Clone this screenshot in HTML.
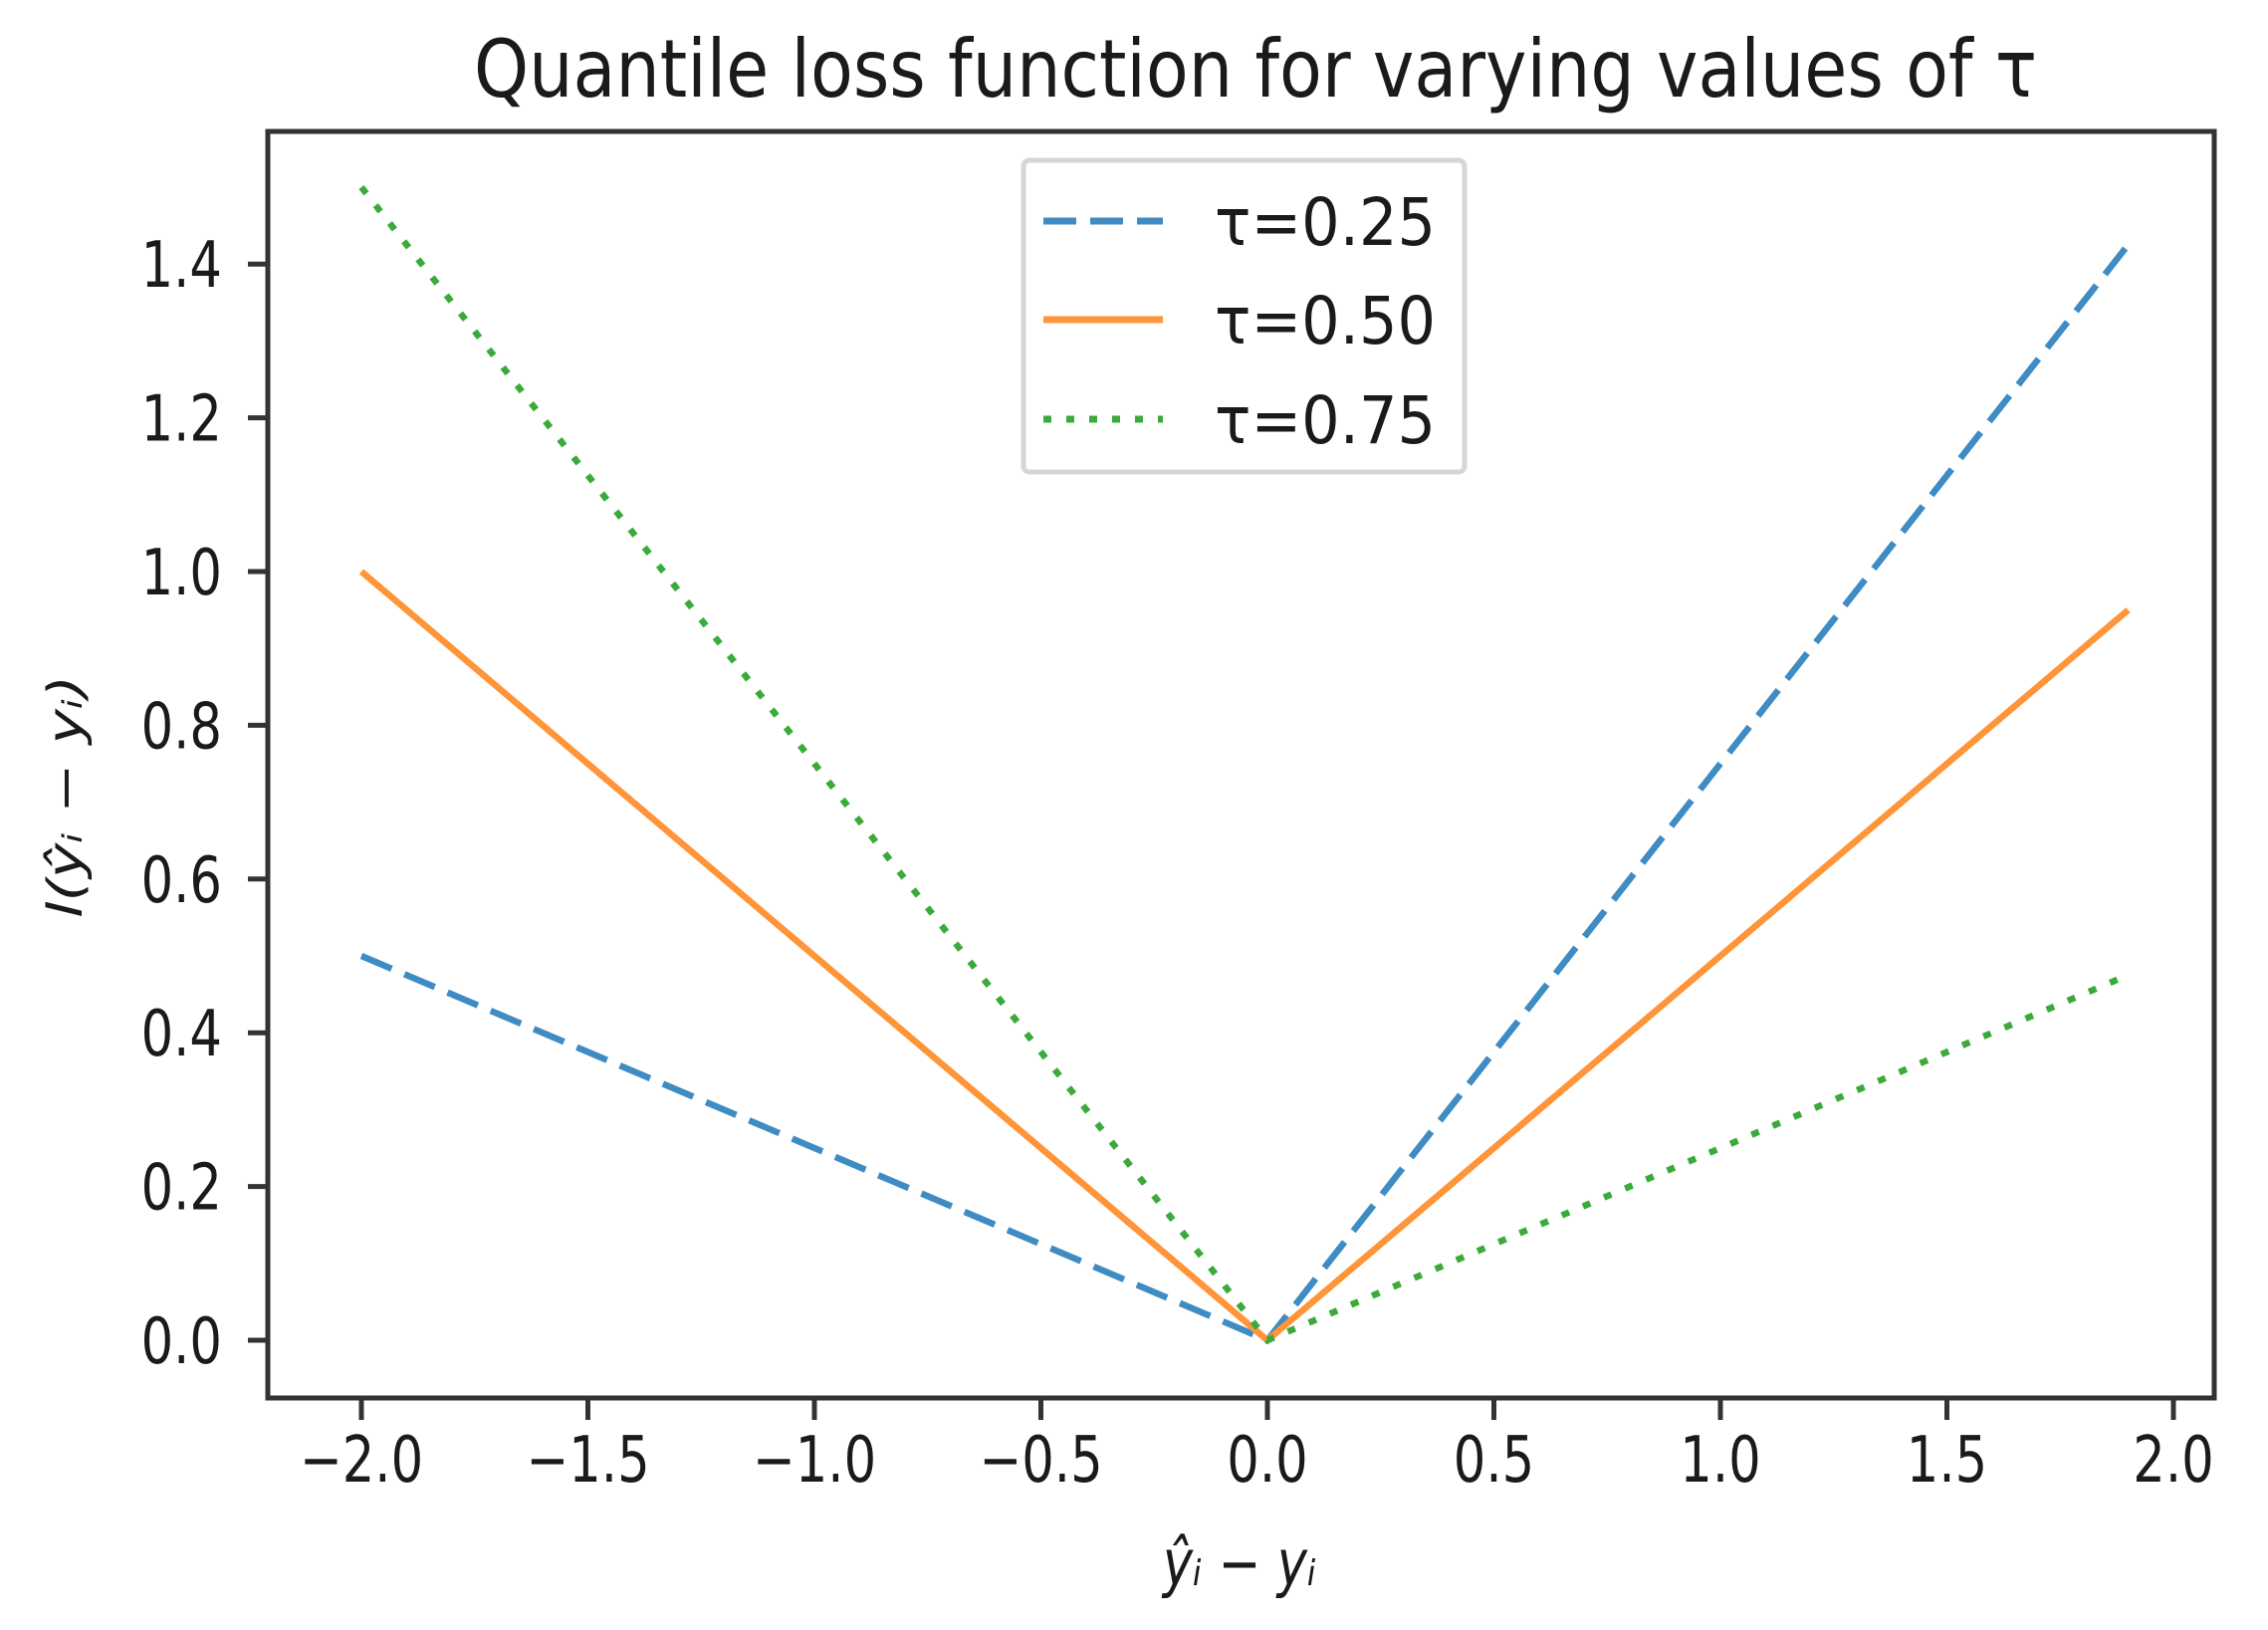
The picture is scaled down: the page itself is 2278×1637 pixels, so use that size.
<!DOCTYPE html>
<html><head><meta charset="utf-8"><style>
html,body{margin:0;padding:0;background:#fff;}
svg{display:block;}
text{font-family:"DejaVu Sans","Liberation Sans",sans-serif;fill:#1a1a1a;}
</style></head>
<body>
<svg id="chart" width="2278" height="1637" viewBox="0 0 2278 1637" xmlns="http://www.w3.org/2000/svg">
<rect x="0" y="0" width="2278" height="1637" fill="#fff"/>
<g id="marks"></g>
<g id="axes"></g>
</svg>
<script>
const xValues = [-2.0, 0.0, 1.9];
const tau25 = [0.5, 0.0, 1.425];
const tau50 = [1.0, 0.0, 0.95];
const tau75 = [1.5, 0.0, 0.475];
const xTicks = [-2.0, -1.5, -1.0, -0.5, 0.0, 0.5, 1.0, 1.5, 2.0];
const xTickLabels = ["\u22122.0","\u22121.5","\u22121.0","\u22120.5","0.0","0.5","1.0","1.5","2.0"];
const yTicks = [0.0, 0.2, 0.4, 0.6, 0.8, 1.0, 1.2, 1.4];
const yTickLabels = ["0.0","0.2","0.4","0.6","0.8","1.0","1.2","1.4"];
const legendLabels = ["\u03c4=0.25","\u03c4=0.50","\u03c4=0.75"];

const NS = "http://www.w3.org/2000/svg";
const L = 269, T = 132, R = 2224, B = 1404;
const X0 = 1273, XU = 455, Y0 = 1346, YU = 772;
function sx(v){ return X0 + v * XU; }
function sy(v){ return Y0 - v * YU; }
const SQ = 0.8;
function mk(tag, attrs, parent){
  const e = document.createElementNS(NS, tag);
  for (const k in attrs) e.setAttribute(k, attrs[k]);
  parent.appendChild(e);
  return e;
}
function txt(str, x, y, size, anchor, parent){
  const t = mk("text", {transform: "translate(" + x + "," + y + ") scale(" + SQ + ",1)", "font-size": size, "text-anchor": anchor}, parent);
  t.textContent = str;
  return t;
}
const marks = document.getElementById("marks");
const axes = document.getElementById("axes");

const series = [
  {vals: tau25, color: "#3f8bc3", dash: "33 14", name: "series-tau-0-25"},
  {vals: tau50, color: "#ff9438", dash: "", name: "series-tau-0-50"},
  {vals: tau75, color: "#3aab3a", dash: "8 15", name: "series-tau-0-75"}
];
series.forEach(function(s){
  const pts = xValues.map(function(x,i){ return sx(x).toFixed(1) + "," + sy(s.vals[i]).toFixed(1); }).join(" ");
  const pl = mk("polyline", {points: pts, fill: "none", stroke: s.color, "stroke-width": 6.5, "stroke-dasharray": s.dash}, marks);
  
  
});

const fr = mk("rect", {x: L, y: T, width: R - L, height: B - T, fill: "none", stroke: "#333", "stroke-width": 5}, axes);



xTicks.forEach(function(v, i){
  const tk = mk("line", {x1: sx(v), x2: sx(v), y1: B, y2: B + 22, stroke: "#333", "stroke-width": 5}, axes);
  
  
  const lb = txt(xTickLabels[i], sx(v), 1488, 64, "middle", axes);
  
  
});
yTicks.forEach(function(v, i){
  const tk = mk("line", {x1: L - 20, x2: L, y1: sy(v), y2: sy(v), stroke: "#333", "stroke-width": 5}, axes);
  
  
  const lb = txt(yTickLabels[i], 223, sy(v) + 23, 64, "end", axes);
  
  
});

const title = mk("text", {x: 1261, y: 97, "font-size": 80, "text-anchor": "middle", textLength: 1570, lengthAdjust: "spacingAndGlyphs"}, axes);
title.textContent = "Quantile loss function for varying values of \u03c4";



const xl = mk("text", {transform: "translate(1245,1592) scale(" + SQ + ",1)", "font-size": 64, "text-anchor": "middle", "font-style": "italic"}, axes);
xl.textContent = "\u0177\u1d62 \u2212 y\u1d62";



const yl = mk("text", {transform: "translate(82,800) rotate(-90) scale(1,0.8)", "font-size": 60, "text-anchor": "middle", "font-style": "italic"}, axes);
yl.textContent = "l(\u0177\u1d62 \u2212 y\u1d62)";



const lg = mk("g", {}, axes);


const lbox = mk("rect", {x: 1028, y: 161, width: 443, height: 313, rx: 6, fill: "#fff", stroke: "#d6d6d6", "stroke-width": 5}, lg);


const rowY = [222, 321, 421];
series.forEach(function(s, i){
  const ln = mk("line", {x1: 1048, x2: 1168, y1: rowY[i], y2: rowY[i], stroke: s.color, "stroke-width": 7, "stroke-dasharray": s.dash}, lg);
  
  
  const t = mk("text", {x: 1220, y: rowY[i] + 24, "font-size": 66, textLength: 222, lengthAdjust: "spacingAndGlyphs"}, lg);
  t.textContent = legendLabels[i];
  
  
});
</script>
</body></html>
